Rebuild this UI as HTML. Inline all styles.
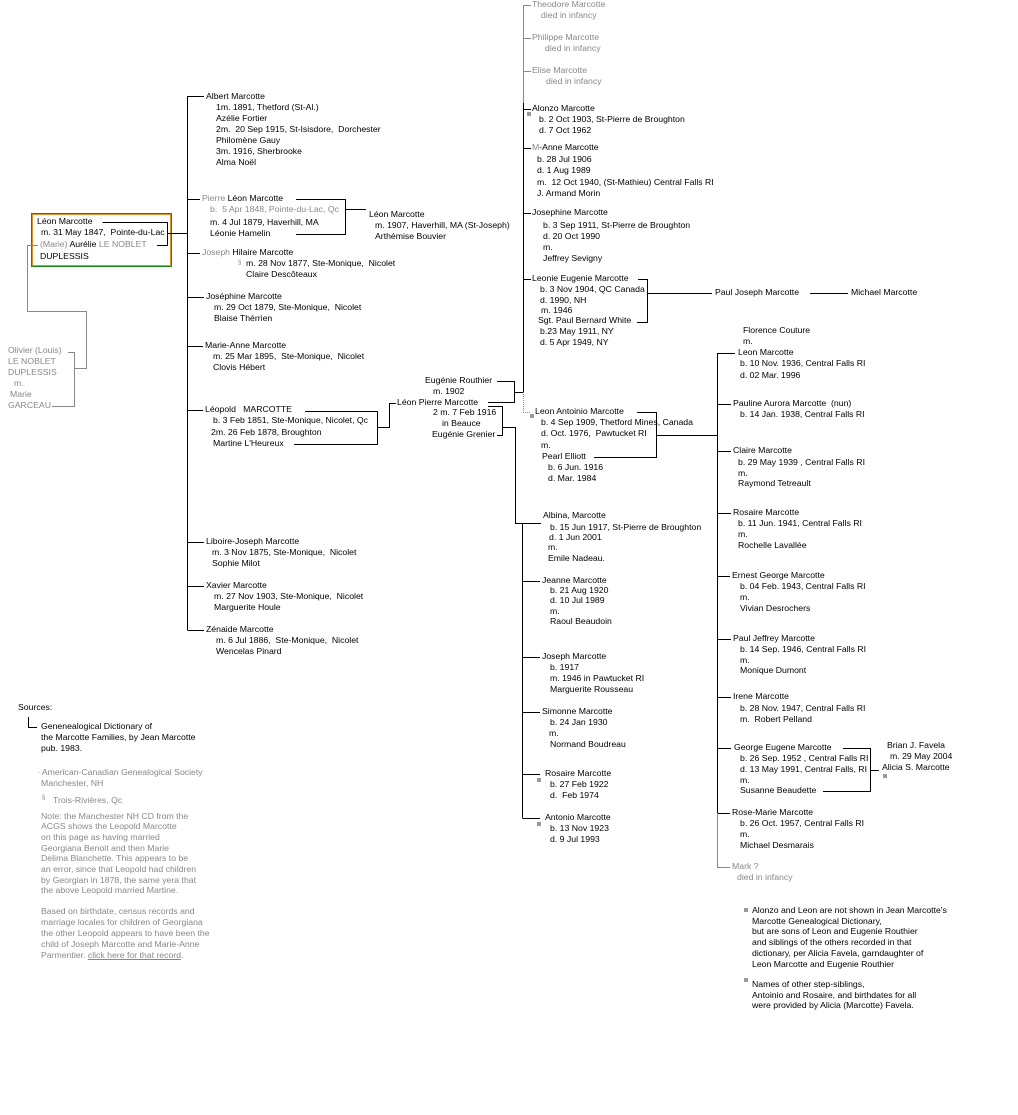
<!DOCTYPE html>
<html><head><meta charset="utf-8"><style>
html,body{margin:0;padding:0;background:#fff;width:1018px;height:1115px;overflow:hidden}
.t{position:absolute;white-space:nowrap;font:8.7px/11px "Liberation Sans",sans-serif;color:#000}
.g{color:#888}
.sq{position:absolute;width:4px;height:4px;background:#999}
svg{position:absolute;left:0;top:0}
#box{position:absolute;left:31px;top:213px;width:139px;height:52px;border:1px solid #1a8a1a;box-shadow:inset 0 0 0 1px #e0902a}
</style></head><body>
<div id="box"></div>
<svg width="1018" height="1115" shape-rendering="crispEdges">
<g stroke="#000" stroke-width="1" fill="none">
<path d="M102.5 222.5H167.5V245.5H157M167.5 233.5H187.5"/>
<path d="M187.5 96V630M187.5 96.5H204M187.5 199.5H200M187.5 253.5H200M187.5 297.5H204M187.5 346.5H203M187.5 410.5H203M187.5 542.5H204M187.5 586.5H204M187.5 630.5H204"/>
<path d="M296 199.5H345.5V234.5H296M345.5 209.5H366"/>
<path d="M305 411.5H377.5V444.5H294M377.5 427.5H389.5V403.5H396"/>
<path d="M497 381.5H514.5V402.5H488M514.5 392.5H523.5M488 406.5H502.5V435.5H497M502.5 427.5H515.5V523.5H522.5M522.5 523V818M522.5 523.5H541M522.5 581.5H540M522.5 657.5H540M522.5 712.5H540M522.5 774.5H540M522.5 818.5H540"/>
<path d="M523.5 103V392M523.5 109.5H531M523.5 148.5H531M523.5 213.5H531M523.5 279.5H531"/>
<path d="M638 279.5H647.5V322.5H637M647.5 293.5H712M810 293.5H848"/>
<path d="M637 412.5H656.5V457.5H594M656.5 435.5H717.5M717.5 353V813M717.5 353.5H735M717.5 404.5H731M717.5 451.5H731M717.5 513.5H731M717.5 576.5H730M717.5 639.5H731M717.5 697.5H731M717.5 748.5H731M717.5 813.5H730"/>
<path d="M843 748.5H870.5V791.5H823M870.5 770.5H879"/>
<path d="M28.5 717V727.5H37"/>
</g>
<g stroke="#888" stroke-width="1" fill="none">
<path d="M523.5 5V103M523.5 5.5H531M523.5 38.5H531M523.5 71.5H531"/>
<path d="M523.5 392V412.5H531" stroke-dasharray="1 1"/>
<path d="M717.5 813V867.5H730"/>
<path d="M38 245.5H27.5V311.5H86.5V368.5H74.5M68 352.5H74.5V406.5H52"/>
</g>
</svg>

<div class="t" style="left:37px;top:216px">Léon Marcotte</div>
<div class="t" style="left:41px;top:227px">m. 31 May 1847,&nbsp; Pointe-du-Lac</div>
<div class="t" style="left:40px;top:239px"><span class="g">(Marie)</span> Aurélie <span class="g">LE NOBLET</span></div>
<div class="t" style="left:40px;top:251px">DUPLESSIS</div>
<div class="t g" style="left:8px;top:345px">Olivier (Louis)</div>
<div class="t g" style="left:8px;top:356px">LE NOBLET</div>
<div class="t g" style="left:8px;top:367px">DUPLESSIS</div>
<div class="t g" style="left:14px;top:378px">m.</div>
<div class="t g" style="left:10px;top:389px">Marie</div>
<div class="t g" style="left:8px;top:400px">GARCEAU</div>

<div class="t" style="left:206px;top:91px">Albert Marcotte</div>
<div class="t" style="left:216px;top:102px">1m. 1891, Thetford (St-Al.)</div>
<div class="t" style="left:216px;top:113px">Azélie Fortier</div>
<div class="t" style="left:216px;top:124px">2m.&nbsp; 20 Sep 1915, St-Isisdore,&nbsp; Dorchester</div>
<div class="t" style="left:216px;top:135px">Philomène Gauy</div>
<div class="t" style="left:216px;top:146px">3m. 1916, Sherbrooke</div>
<div class="t" style="left:216px;top:157px">Alma Noël</div>

<div class="t" style="left:202px;top:193px"><span class="g">Pierre</span> Léon Marcotte</div>
<div class="t g" style="left:210px;top:204px">b.&nbsp; 5 Apr 1848, Pointe-du-Lac, Qc</div>
<div class="t" style="left:210px;top:217px">m. 4 Jul 1879, Haverhill, MA</div>
<div class="t" style="left:210px;top:228px">Léonie Hamelin</div>
<div class="t" style="left:369px;top:209px">Léon Marcotte</div>
<div class="t" style="left:375px;top:220px">m. 1907, Haverhill, MA (St-Joseph)</div>
<div class="t" style="left:375px;top:231px">Arthémise Bouvier</div>

<div class="t" style="left:202px;top:247px"><span class="g">Joseph</span> Hilaire Marcotte</div>
<div class="t g" style="left:238px;top:258px;font-size:6px">§</div>
<div class="t" style="left:246px;top:258px">m. 28 Nov 1877, Ste-Monique,&nbsp; Nicolet</div>
<div class="t" style="left:246px;top:269px">Claire Descôteaux</div>

<div class="t" style="left:206px;top:291px">Joséphine Marcotte</div>
<div class="t" style="left:214px;top:302px">m. 29 Oct 1879, Ste-Monique,&nbsp; Nicolet</div>
<div class="t" style="left:214px;top:313px">Blaise Thérrien</div>

<div class="t" style="left:205px;top:340px">Marie-Anne Marcotte</div>
<div class="t" style="left:213px;top:351px">m. 25 Mar 1895,&nbsp; Ste-Monique,&nbsp; Nicolet</div>
<div class="t" style="left:213px;top:362px">Clovis Hébert</div>

<div class="t" style="left:205px;top:404px">Léopold &nbsp; MARCOTTE</div>
<div class="t" style="left:213px;top:415px">b. 3 Feb 1851, Ste-Monique, Nicolet, Qc</div>
<div class="t" style="left:211px;top:427px">2m. 26 Feb 1878, Broughton</div>
<div class="t" style="left:213px;top:438px">Martine L'Heureux</div>

<div class="t" style="left:425px;top:375px">Eugénie Routhier</div>
<div class="t" style="left:433px;top:386px">m. 1902</div>
<div class="t" style="left:397px;top:397px">Léon Pierre Marcotte</div>
<div class="t" style="left:433px;top:407px">2 m. 7 Feb 1916</div>
<div class="t" style="left:442px;top:418px">in Beauce</div>
<div class="t" style="left:432px;top:429px">Eugénie Grenier</div>

<div class="t" style="left:206px;top:536px">Liboire-Joseph Marcotte</div>
<div class="t" style="left:212px;top:547px">m. 3 Nov 1875, Ste-Monique,&nbsp; Nicolet</div>
<div class="t" style="left:212px;top:558px">Sophie Milot</div>
<div class="t" style="left:206px;top:580px">Xavier Marcotte</div>
<div class="t" style="left:214px;top:591px">m. 27 Nov 1903, Ste-Monique,&nbsp; Nicolet</div>
<div class="t" style="left:214px;top:602px">Marguerite Houle</div>
<div class="t" style="left:206px;top:624px">Zénaide Marcotte</div>
<div class="t" style="left:216px;top:635px">m. 6 Jul 1886,&nbsp; Ste-Monique,&nbsp; Nicolet</div>
<div class="t" style="left:216px;top:646px">Wencelas Pinard</div>

<div class="t g" style="left:532px;top:-1px">Theodore Marcotte</div>
<div class="t g" style="left:541px;top:10px">died in infancy</div>
<div class="t g" style="left:532px;top:32px">Philippe Marcotte</div>
<div class="t g" style="left:545px;top:43px">died in infancy</div>
<div class="t g" style="left:532px;top:65px">Elise Marcotte</div>
<div class="t g" style="left:546px;top:76px">died in infancy</div>
<div class="sq" style="left:527px;top:112px"></div>
<div class="t" style="left:532px;top:103px">Alonzo Marcotte</div>
<div class="t" style="left:539px;top:114px">b. 2 Oct 1903, St-Pierre de Broughton</div>
<div class="t" style="left:539px;top:125px">d. 7 Oct 1962</div>
<div class="t" style="left:532px;top:142px"><span class="g">M</span>-Anne Marcotte</div>
<div class="t" style="left:537px;top:154px">b. 28 Jul 1906</div>
<div class="t" style="left:537px;top:165px">d. 1 Aug 1989</div>
<div class="t" style="left:537px;top:177px">m.&nbsp; 12 Oct 1940, (St-Mathieu) Central Falls RI</div>
<div class="t" style="left:537px;top:188px">J. Armand Morin</div>
<div class="t" style="left:532px;top:207px">Josephine Marcotte</div>
<div class="t" style="left:543px;top:220px">b. 3 Sep 1911, St-Pierre de Broughton</div>
<div class="t" style="left:543px;top:231px">d. 20 Oct 1990</div>
<div class="t" style="left:543px;top:242px">m.</div>
<div class="t" style="left:543px;top:253px">Jeffrey Sevigny</div>
<div class="t" style="left:532px;top:273px">Leonie Eugenie Marcotte</div>
<div class="t" style="left:540px;top:284px">b. 3 Nov 1904, QC Canada</div>
<div class="t" style="left:540px;top:295px">d. 1990, NH</div>
<div class="t" style="left:541px;top:305px">m. 1946</div>
<div class="t" style="left:538px;top:315px">Sgt. Paul Bernard White</div>
<div class="t" style="left:540px;top:326px">b.23 May 1911, NY</div>
<div class="t" style="left:540px;top:337px">d. 5 Apr 1949, NY</div>
<div class="t" style="left:715px;top:287px">Paul Joseph Marcotte</div>
<div class="t" style="left:851px;top:287px">Michael Marcotte</div>

<div class="sq" style="left:530px;top:414px"></div>
<div class="t" style="left:535px;top:406px">Leon Antoinio Marcotte</div>
<div class="t" style="left:541px;top:417px">b. 4 Sep 1909, Thetford Mines, Canada</div>
<div class="t" style="left:541px;top:428px">d. Oct. 1976,&nbsp; Pawtucket RI</div>
<div class="t" style="left:541px;top:440px">m.</div>
<div class="t" style="left:542px;top:451px">Pearl Elliott</div>
<div class="t" style="left:548px;top:462px">b. 6 Jun. 1916</div>
<div class="t" style="left:548px;top:473px">d. Mar. 1984</div>

<div class="t" style="left:543px;top:510px">Albina, Marcotte</div>
<div class="t" style="left:550px;top:522px">b. 15 Jun 1917, St-Pierre de Broughton</div>
<div class="t" style="left:549px;top:532px">d. 1 Jun 2001</div>
<div class="t" style="left:548px;top:542px">m.</div>
<div class="t" style="left:548px;top:553px">Emile Nadeau.</div>
<div class="t" style="left:542px;top:575px">Jeanne Marcotte</div>
<div class="t" style="left:550px;top:585px">b. 21 Aug 1920</div>
<div class="t" style="left:550px;top:595px">d. 10 Jul 1989</div>
<div class="t" style="left:550px;top:606px">m.</div>
<div class="t" style="left:550px;top:616px">Raoul Beaudoin</div>
<div class="t" style="left:542px;top:651px">Joseph Marcotte</div>
<div class="t" style="left:550px;top:662px">b. 1917</div>
<div class="t" style="left:550px;top:673px">m. 1946 in Pawtucket RI</div>
<div class="t" style="left:550px;top:684px">Marguerite Rousseau</div>
<div class="t" style="left:542px;top:706px">Simonne Marcotte</div>
<div class="t" style="left:550px;top:717px">b. 24 Jan 1930</div>
<div class="t" style="left:549px;top:728px">m.</div>
<div class="t" style="left:550px;top:739px">Normand Boudreau</div>
<div class="sq" style="left:537px;top:778px"></div>
<div class="t" style="left:545px;top:768px">Rosaire Marcotte</div>
<div class="t" style="left:550px;top:779px">b. 27 Feb 1922</div>
<div class="t" style="left:550px;top:790px">d.&nbsp; Feb 1974</div>
<div class="sq" style="left:537px;top:822px"></div>
<div class="t" style="left:545px;top:812px">Antonio Marcotte</div>
<div class="t" style="left:550px;top:823px">b. 13 Nov 1923</div>
<div class="t" style="left:550px;top:834px">d. 9 Jul 1993</div>

<div class="t" style="left:743px;top:325px">Florence Couture</div>
<div class="t" style="left:743px;top:336px">m.</div>
<div class="t" style="left:738px;top:347px">Leon Marcotte</div>
<div class="t" style="left:740px;top:358px">b. 10 Nov. 1936, Central Falls RI</div>
<div class="t" style="left:740px;top:370px">d. 02 Mar. 1996</div>
<div class="t" style="left:733px;top:398px">Pauline Aurora Marcotte&nbsp; (nun)</div>
<div class="t" style="left:740px;top:409px">b. 14 Jan. 1938, Central Falls RI</div>
<div class="t" style="left:733px;top:445px">Claire Marcotte</div>
<div class="t" style="left:738px;top:457px">b. 29 May 1939 , Central Falls RI</div>
<div class="t" style="left:738px;top:468px">m.</div>
<div class="t" style="left:738px;top:478px">Raymond Tetreault</div>
<div class="t" style="left:733px;top:507px">Rosaire Marcotte</div>
<div class="t" style="left:738px;top:518px">b. 11 Jun. 1941, Central Falls RI</div>
<div class="t" style="left:738px;top:529px">m.</div>
<div class="t" style="left:738px;top:540px">Rochelle Lavallée</div>
<div class="t" style="left:732px;top:570px">Ernest George Marcotte</div>
<div class="t" style="left:740px;top:581px">b. 04 Feb. 1943, Central Falls RI</div>
<div class="t" style="left:740px;top:592px">m.</div>
<div class="t" style="left:740px;top:603px">Vivian Desrochers</div>
<div class="t" style="left:733px;top:633px">Paul Jeffrey Marcotte</div>
<div class="t" style="left:740px;top:644px">b. 14 Sep. 1946, Central Falls RI</div>
<div class="t" style="left:740px;top:655px">m.</div>
<div class="t" style="left:740px;top:665px">Monique Dumont</div>
<div class="t" style="left:733px;top:691px">Irene Marcotte</div>
<div class="t" style="left:740px;top:703px">b. 28 Nov. 1947, Central Falls RI</div>
<div class="t" style="left:740px;top:714px">m.&nbsp; Robert Pelland</div>
<div class="t" style="left:734px;top:742px">George Eugene Marcotte</div>
<div class="t" style="left:740px;top:753px">b. 26 Sep. 1952 , Central Falls RI</div>
<div class="t" style="left:740px;top:764px">d. 13 May 1991, Central Falls, RI</div>
<div class="t" style="left:740px;top:775px">m.</div>
<div class="t" style="left:740px;top:785px">Susanne Beaudette</div>
<div class="t" style="left:887px;top:740px">Brian J. Favela</div>
<div class="t" style="left:890px;top:751px">m. 29 May 2004</div>
<div class="t" style="left:882px;top:762px">Alicia S. Marcotte</div>
<div class="sq" style="left:883px;top:774px"></div>
<div class="t" style="left:732px;top:807px">Rose-Marie Marcotte</div>
<div class="t" style="left:740px;top:818px">b. 26 Oct. 1957, Central Falls RI</div>
<div class="t" style="left:740px;top:829px">m.</div>
<div class="t" style="left:740px;top:840px">Michael Desmarais</div>
<div class="t g" style="left:732px;top:861px">Mark ?</div>
<div class="t g" style="left:737px;top:872px">died in infancy</div>

<div class="t" style="left:18px;top:702px">Sources:</div>
<div class="t" style="left:41px;top:721px">Genenealogical Dictionary of</div>
<div class="t" style="left:41px;top:732px">the Marcotte Families, by Jean Marcotte</div>
<div class="t" style="left:41px;top:743px">pub. 1983.</div>
<div class="t g" style="left:37px;top:767px">· American-Canadian Genealogical Society</div>
<div class="t g" style="left:41px;top:778px">Manchester, NH</div>
<div class="t g" style="left:42px;top:793px;font-size:6px">§</div>
<div class="t g" style="left:53px;top:795px">Trois-Rivières, Qc</div>
<div class="t g" style="left:41px;top:811px">Note: the Manchester NH CD from the</div>
<div class="t g" style="left:41px;top:821px">ACGS shows the Leopold Marcotte</div>
<div class="t g" style="left:41px;top:832px">on this page as having married</div>
<div class="t g" style="left:41px;top:843px">Georgiana Benoit and then Marie</div>
<div class="t g" style="left:41px;top:853px">Delima Blanchette. This appears to be</div>
<div class="t g" style="left:41px;top:864px">an error, since that Leopold had children</div>
<div class="t g" style="left:41px;top:875px">by Georgian in 1878, the same yera that</div>
<div class="t g" style="left:41px;top:885px">the above Leopold married Martine.</div>
<div class="t g" style="left:41px;top:906px">Based on birthdate, census records and</div>
<div class="t g" style="left:41px;top:917px">marriage locales for children of Georgiana</div>
<div class="t g" style="left:41px;top:928px">the other Leopold appears to have been the</div>
<div class="t g" style="left:41px;top:939px">child of Joseph Marcotte and Marie-Anne</div>
<div class="t g" style="left:41px;top:950px">Parmentier. <span style="text-decoration:underline">click here for that record</span>.</div>

<div class="sq" style="left:744px;top:908px"></div>
<div class="t" style="left:752px;top:905px">Alonzo and Leon are not shown in Jean Marcotte's</div>
<div class="t" style="left:752px;top:916px">Marcotte Genealogical Dictionary,</div>
<div class="t" style="left:752px;top:926px">but are sons of Leon and Eugenie Routhier</div>
<div class="t" style="left:752px;top:937px">and siblings of the others recorded in that</div>
<div class="t" style="left:752px;top:948px">dictionary, per Alicia Favela, garndaughter of</div>
<div class="t" style="left:752px;top:959px">Leon Marcotte and Eugenie Routhier</div>
<div class="sq" style="left:744px;top:978px"></div>
<div class="t" style="left:752px;top:979px">Names of other step-siblings,</div>
<div class="t" style="left:752px;top:990px">Antoinio and Rosaire, and birthdates for all</div>
<div class="t" style="left:752px;top:1000px">were provided by Alicia (Marcotte) Favela.</div>
</body></html>
